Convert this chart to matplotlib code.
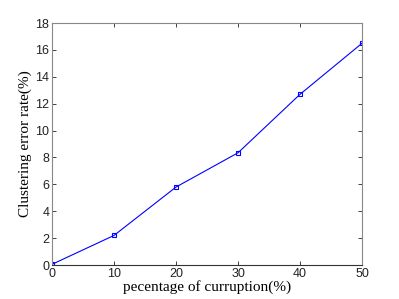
import matplotlib
matplotlib.use("Agg")
import matplotlib.pyplot as plt

corruption = [0, 10, 20, 30, 40, 50]
error_rate = [0.05, 2.2, 5.8, 8.35, 12.7, 16.5]
xticks = [0, 10, 20, 30, 40, 50]
yticks = [0, 2, 4, 6, 8, 10, 12, 14, 16, 18]

fig = plt.figure(figsize=(3.99, 2.99), dpi=100)
ax = fig.add_axes([0.1303, 0.1137, 0.777, 0.809])
ax.plot(corruption, error_rate, color='#0000ff', lw=0.8, marker='s', ms=3.2,
        mfc='none', mec='#0000ff', mew=0.8)
ax.set_xlim(0, 50)
ax.set_ylim(0, 18)
ax.set_xticks(xticks)
ax.set_yticks(yticks)
ax.tick_params(direction='in', length=3, width=0.6, labelsize=9, colors='#222222',
               top=True, right=True, pad=2)
for lbl in ax.get_xticklabels() + ax.get_yticklabels():
    lbl.set_family('Liberation Sans')
for s in ax.spines.values():
    s.set_color('#888888')
    s.set_linewidth(0.8)
ax.spines['bottom'].set_color('#333333')
ax.spines['left'].set_color('#888888')
ax.set_xlabel('pecentage of curruption(%)', family='Liberation Serif', fontsize=11, labelpad=0)
ax.set_ylabel('Clustering error rate(%)', family='Liberation Serif', fontsize=11, labelpad=2)
fig.savefig('out.png', dpi=100)
